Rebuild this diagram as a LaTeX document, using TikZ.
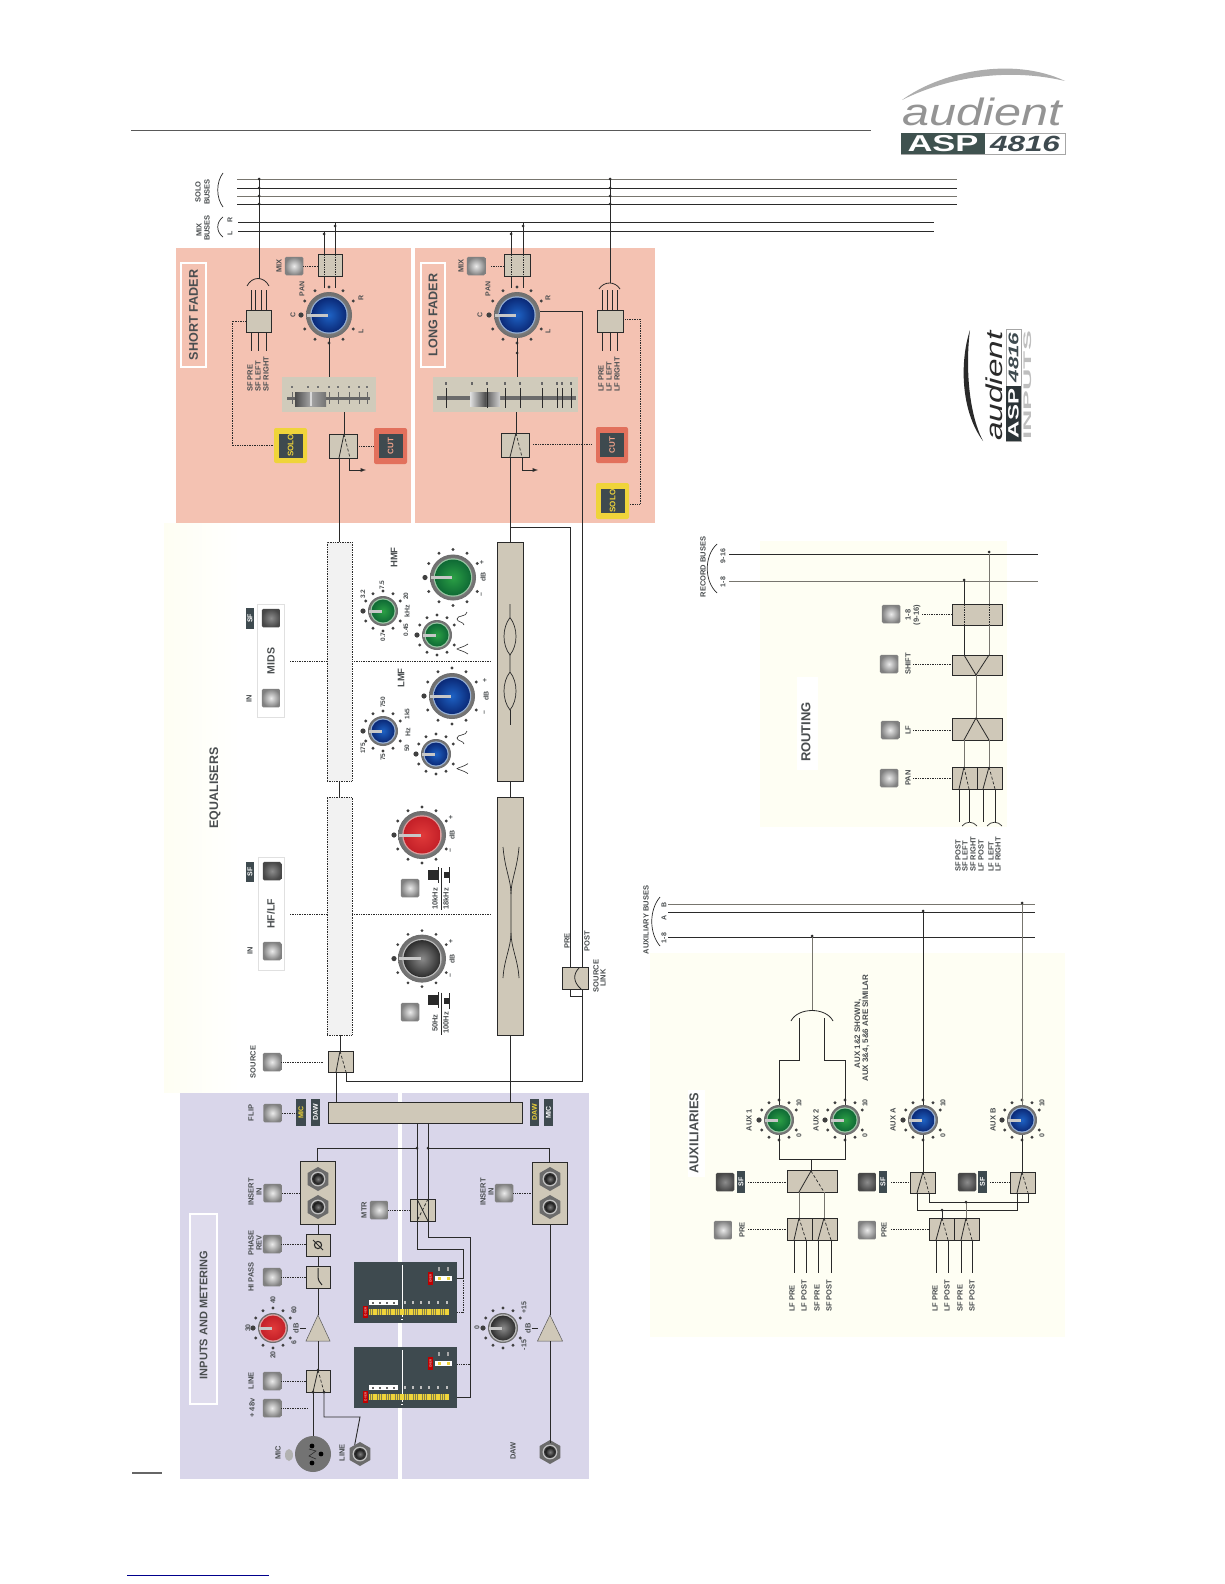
\documentclass[tikz,border=0pt]{standalone}
\usepackage{fontspec}
\setmainfont{Liberation Sans}
\usetikzlibrary{shapes.geometric,calc}
\definecolor{tan}{HTML}{CFC8B8}
\definecolor{ink}{HTML}{2A2A2A}
\definecolor{txt}{HTML}{4A4E50}
\definecolor{lav}{HTML}{D9D6EA}
\definecolor{pinkp}{HTML}{F4C2B2}
\definecolor{pale}{HTML}{FEFEF3}
\definecolor{slate}{HTML}{3E4A4F}
\definecolor{yel}{HTML}{EFD43A}
\definecolor{cutr}{HTML}{E2705C}
\definecolor{cutt}{HTML}{F0A28A}
\definecolor{fadc}{HTML}{D0CBBB}
\definecolor{wgray}{HTML}{77756E}
\definecolor{kbluei}{HTML}{1E62C4}\definecolor{kblueo}{HTML}{0B2A78}
\definecolor{kgreeni}{HTML}{2BA045}\definecolor{kgreeno}{HTML}{0F6A35}
\definecolor{kredi}{HTML}{E03A3A}\definecolor{kredo}{HTML}{C42028}
\definecolor{kgrayi}{HTML}{8A8A8A}\definecolor{kgrayo}{HTML}{2E2E2E}
\tikzset{
 wire/.style={draw=ink,line width=.9pt},
 gwire/.style={draw=wgray,line width=1pt},
 dotw/.style={draw=ink,line width=.7pt,densely dotted},
 ctl/.style={draw=ink,line width=.7pt,densely dotted},
 sym/.style={draw=ink,line width=.8pt},
 symd/.style={draw=ink,line width=.7pt,densely dashed},
 swbox/.style={draw=ink,fill=tan,line width=.9pt,inner sep=0pt},
 eqsf/.style={draw=ink,fill=black!5,line width=.7pt,densely dotted,inner sep=0pt},
 fadbg/.style={fill=fadc,inner sep=0pt},
 lbl/.style={rotate=90,inner sep=1pt,text=txt},
 ttl/.style={rotate=90,inner sep=1pt,text=txt},
 btnn/.style={rounded corners=1.5pt,minimum size=18.5pt,inner sep=0pt,inner color=black!8,outer color=black!50},
 btnd/.style={rounded corners=1.5pt,minimum size=18.5pt,inner sep=0pt,inner color=black!45,outer color=black!72},
}
\newcommand\fz[1]{\fontsize{#1}{#1}\selectfont}
\newcount\lbc
\newcommand\lb[4][7.5]{\global\advance\lbc by 1 \node[lbl,font=\bfseries\fz{#1}] (L\the\lbc) at (#2,#3) {#4};}
\newcommand\lbw[4][7.5]{\global\advance\lbc by 1 \node[lbl,font=\bfseries\fz{#1},anchor=west] (L\the\lbc) at (#2,#3) {#4};}
\newcommand\nlb[5][7.5]{\node[lbl,font=\bfseries\fz{#1}] (#2) at (#3,#4) {#5};}
\newcommand\bx[6][swbox]{\pgfmathsetmacro\bxcx{(#3+#5)/2}\pgfmathsetmacro\bxcy{(#4+#6)/2}\pgfmathsetmacro\bxw{#5-#3}\pgfmathsetmacro\bxh{#6-#4}\node[#1,minimum width=\bxw pt,minimum height=\bxh pt] (#2) at (\bxcx,\bxcy) {};}
\newcommand\btn[4][btnn]{\node[#1] (#2) at (#3,#4) {};}
\newcommand\vw[4][wire]{\draw[#1] (#3 -| #2,0) -- (#4 -| #2,0);}
\newcommand\hw[4][wire]{\draw[#1] (#3 |- 0,#2) -- (#4 |- 0,#2);}
\newcommand\jd[2]{\fill[ink] (#1,#2) circle (1.5pt);}
\newcommand\sw[5]{\draw[sym] (#1,#2)--(#3,#5); \draw[symd] (#1,#2)--(#4,#5);}
\newcommand\knob[8]{%
 \foreach \a in {30,60,90,120,150,210,240,270,300,330}{\fill[black!75] ({#2+#4*cos(\a)},{#3+#4*sin(\a)}) circle (1.6pt);}
 \fill[black!75] ({#2-#4},#3) circle (2.6pt);
 \node[circle,minimum size=2*#5 pt,inner sep=0pt,inner color=black!25,outer color=black!58] (#1) at (#2,#3) {};
 \draw[black!55,line width=1.2pt,dash pattern=on 1.2pt off 1.2pt] (#2,#3) circle ({#5-1 pt});
 \fill[#7!45!white!85!gray] (#2,#3) circle ({#6+1.2 pt});
 \shade[inner color=#7,outer color=#8] (#2,#3) circle ({#6 pt});
 \draw[black!22,line width=3pt] ({#2-#5+1},#3) -- ({#2-1},#3);
}
\newcommand\jack[4][12]{\node[regular polygon,regular polygon sides=6,rotate=30,minimum size=2*#1 pt,inner sep=0pt,fill=black!58] (#2) at (#3,#4) {};
 \fill[black!25] (#3,#4) circle ({#1*.62 pt}); \fill[black!80] (#3,#4) circle ({#1*.5 pt}); \shade[inner color=black!50,outer color=black!90] (#3,#4) circle ({#1*.4 pt});}
\newcommand\ctlb[8]{\bx[fill=#6,rounded corners=2pt,inner sep=0pt]{#1}{#2}{#3}{#4}{#5}
 \node[fill=slate,rotate=90,inner sep=0pt,minimum width=24pt,minimum height=24pt,text=#7,font=\bfseries\fz{8}] (#1t) at (#1) {#8};}
\newcommand\tagb[7]{\bx[fill=slate,inner sep=0pt]{#1}{#2}{#3}{#4}{#5}
 \node[rotate=90,inner sep=0pt,text=#7,font=\bfseries\fz{7}] (#1t) at (#1) {#6};}
\newcommand\amp[6]{\coordinate (#1a) at (#2,#3); \coordinate (#1b) at (#2,#4);
 \fill[tan,draw=black!65,line width=.5pt] (#2,#3) -- ({#2-#5},#4) -- ({#2+#5},#4) -- cycle;}
\newcommand\meterbody{%
 \draw[white,line width=.6pt] (48,3) -- (48,55);
 \fill[red!75!black] (74,10) rectangle (79,23);
 \node[rotate=90,inner sep=0pt,text=white,font=\fz{3}] (\mname a) at (76.5,16.5) {OVER};
 \fill[white] (81,14) rectangle (98,19);
 \fill[yel] (84,14.6) rectangle (87,18.4); \fill[yel] (93,14.6) rectangle (96,18.4);
 \fill[black!35] (84,5) rectangle (86,9); \fill[black!35] (93,5) rectangle (95,9);
 \fill[red!75!black] (9,44) rectangle (14,56);
 \node[rotate=90,inner sep=0pt,text=white,font=\fz{3}] (\mname b) at (11.5,50) {OVER};
 \fill[black!55!yellow] (15,47) rectangle (95,53);
 \draw[yel,line width=6pt,dash pattern=on 1.1pt off .7pt] (15,50) -- (95,50);
 \fill[white] (15,38) rectangle (44,43);
 \foreach \k in {19,26,33,40}{\fill[black!60] (\k-1,39.5) rectangle (\k+1,41.5);}
 \foreach \k in {51,59,67,75,84,93}{\fill[black!25] (\k-1,39) rectangle (\k+1,42);}
 \draw[white,line width=.6pt] (47,57) -- (49,57);
}
\newcommand\bella[2]{\draw[ink,line width=.6pt] ({#1+5},{#2-7}) .. controls ({#1+5},{#2-2}) and ({#1-5},{#2-4}) .. ({#1-5},#2) .. controls ({#1-5},{#2+3}) and ({#1+2},{#2+3}) .. ({#1+2},{#2+6});}
\newcommand\bellb[2]{\draw[ink,line width=.6pt] ({#1+6},{#2-5}) .. controls ({#1+2},{#2-2}) and ({#1-4},{#2-1}) .. ({#1-5},#2) .. controls ({#1-4},{#2+1}) and ({#1+2},{#2+2}) .. ({#1+6},{#2+5});}
\newcommand\shelf[4]{\fill[ink] ({#1+5},{#2-8}) rectangle ({#1+5.8},{#2+8}); \fill[ink] ({#1+5},{#2-#4}) rectangle ({#1+5-#3},{#2+#4});}
\begin{document}
\begin{tikzpicture}[x=1pt,y=-1pt]
\useasboundingbox (0,0) rectangle (1224,1584);
\fill[white] (0,0) rectangle (1224,1584);
% page furniture
\coordinate (ruleA) at (131,130); \coordinate (ruleB) at (871,130);
\draw[black!65,line width=.7pt] (ruleA) -- (ruleB);
\coordinate (ruleC) at (132,1473); \coordinate (ruleD) at (162,1473);
\draw[black!60,line width=1.1pt] (ruleC) -- (ruleD);
\coordinate (linkA) at (127,1575); \coordinate (linkB) at (269,1575);
\draw[blue!55!black,line width=.8pt] (linkA) -- (linkB);
% logo
\fill[black!32] (902,100) .. controls (940,72) and (1012,56) .. (1065,81) .. controls (1010,68) and (950,76) .. (902,100) -- cycle;
\node[inner sep=0pt,anchor=base,text=black!42,font=\itshape\fz{38}] (logoA) at (982,126) {\scalebox{1.28}[1]{audient}};
\bx[draw=black!35,fill=white,line width=.5pt,inner sep=0pt]{logoB}{901}{133}{1065}{154}
\definecolor{lgc}{HTML}{3F524F}
\bx[fill=lgc,inner sep=0pt]{logoC}{901}{133}{985}{154}
\node[inner sep=0pt,text=white,font=\bfseries\fz{23}] (logoD) at (943,143.5) {\scalebox{1.5}[1]{ASP}};
\node[inner sep=0pt,text=slate,font=\bfseries\itshape\fz{22}] (logoE) at (1025,143.5) {\scalebox{1.43}[1]{4816}};
% logo 2
\fill[ink] (970,330) .. controls (960,360) and (960,410) .. (983,441) .. controls (967,410) and (966,360) .. (970,330) -- cycle;
\node[rotate=90,inner sep=0pt,anchor=base,text=ink,font=\itshape\fz{23}] (logoF) at (1002,386) {\scalebox{1.45}[1]{audient}};
\bx[draw=black!35,fill=white,line width=.5pt,inner sep=0pt]{logoG}{1006}{329}{1021}{441}
\bx[fill=slate!70!black,inner sep=0pt]{logoH}{1006}{386}{1021}{441}
\node[rotate=90,inner sep=0pt,text=white,font=\bfseries\fz{15}] (logoI) at (1013.5,413.5) {\scalebox{1.6}[1]{ASP}};
\node[rotate=90,inner sep=0pt,text=slate,font=\bfseries\itshape\fz{14}] (logoJ) at (1013.5,357.5) {\scalebox{1.6}[1]{4816}};
\node[rotate=90,inner sep=0pt,text=black!25,font=\bfseries\fz{11}] (logoK) at (1028,385.5) {\scalebox{2.7}[1]{INPUTS}};
% panels
\shade[left color=pale,right color=white] (164,523) rectangle (240,1092);
\fill[lav] (180,1093) rectangle (398,1479);
\fill[lav] (402,1093) rectangle (589,1479);
\fill[pinkp] (176,248) rectangle (411,523);
\fill[pinkp] (415,248) rectangle (655,523);
\fill[pale] (650,953) rectangle (1065,1337);
\fill[pale] (760,541) rectangle (1007,827);
\fill[white] (688,1090) rectangle (705,1177);
\fill[white] (797,677) rectangle (818,770);
% titles
\draw[white,line width=2pt,fill=lav!85!white] (190,1214) rectangle (217,1404);
\node[ttl,font=\bfseries\fz{11}] (tInputs) at (203.5,1315) {INPUTS AND METERING};
\draw[white,line width=2pt] (181,263) rectangle (206,367);
\node[ttl,font=\bfseries\fz{12.6}] (tShort) at (193.5,315) {SHORT FADER};
\draw[white,line width=2pt] (421,263) rectangle (445,367);
\node[ttl,font=\bfseries\fz{12.6}] (tLong) at (433,315) {LONG FADER};
\node[ttl,font=\bfseries\fz{12.4}] (tEq) at (215,788) {EQUALISERS};
\node[ttl,font=\bfseries\fz{12.8}] (tAux) at (694,1133) {AUXILIARIES};
\node[ttl,font=\bfseries\fz{13}] (tRout) at (806,732) {ROUTING};
% buses
\foreach \n/\y/\c in {1/179/gwire,2/188/wire,3/196/gwire,4/204/wire}{\coordinate (sb\n) at (237,\y); \coordinate (sbe\n) at (957,\y); \draw[\c] (sb\n) -- (sbe\n);}
\foreach \n/\y in {R/222,L/231}{\coordinate (mb\n) at (238,\y); \coordinate (mbe\n) at (934,\y); \draw[wire] (mb\n) -- (mbe\n);}
\foreach \n/\y/\c in {B/904/gwire,A/912/wire,C/937/wire}{\coordinate (ab\n) at (668,\y); \coordinate (abe\n) at (1035,\y); \draw[\c] (ab\n) -- (abe\n);}
\foreach \n/\y/\c in {H/554/wire,T/581/gwire}{\coordinate (rb\n) at (729,\y); \coordinate (rbe\n) at (1038,\y); \draw[\c] (rb\n) -- (rbe\n);}
\coordinate (sb1) at (237,179);\coordinate (mbL) at (238,231);\coordinate (mbR) at (238,222);
\coordinate (abA) at (668,912);\coordinate (abB) at (668,904);\coordinate (abC) at (668,937);
\coordinate (rbH) at (729,554);\coordinate (rbT) at (729,581);
% brackets
\draw[ink,line width=.7pt] (223,173) .. controls (216,182) and (216,198) .. (223,207);
\draw[ink,line width=.7pt] (223,217) .. controls (216,222) and (216,232) .. (223,237);
\draw[ink,line width=.7pt] (660,897) .. controls (649,910) and (649,933) .. (660,946);
\draw[ink,line width=.7pt] (717,544) .. controls (704,556) and (704,581) .. (717,593);
\lb{198}{192}{SOLO}\lb{207}{192}{BUSES}\lb{199}{230}{MIX}\lb{207}{228}{BUSES}
\lb[7]{230}{220}{R}\lb[7]{230}{233}{L}
\lb{646}{920}{AUXILIARY BUSES}\lb[7]{664}{905}{B}\lb[7]{664}{918}{A}\lb[7]{664}{938}{1-8}
\lb{703}{567}{RECORD BUSES}\lb[7]{723}{556}{9-16}\lb[7]{723}{582}{1-8}
% ------- inputs
\bx{flip}{328}{1102}{522}{1123}
\btn{bFlip}{272.5}{1113}\lb{251}{1113}{FLIP}
\tagb{tgMic1}{296}{1099}{306}{1126}{MIC}{yel}
\tagb{tgDaw1}{311}{1099}{320}{1126}{DAW}{white}
\tagb{tgDaw2}{530}{1099}{539}{1126}{DAW}{yel}
\tagb{tgMic2}{544}{1099}{553}{1126}{MIC}{white}
\hw[ctl]{1113}{bFlip.east}{tgMic1.west}
\bx{insL}{300}{1161}{335}{1224}\bx{insR}{532}{1162}{567}{1224}
\jack{jL1}{318}{1179}\jack{jL2}{318}{1207}\jack{jR1}{550}{1179}\jack{jR2}{550}{1207}
\btn{bInsL}{272.5}{1193}\lb{251}{1192}{INSERT}\lb{259}{1192}{IN}
\btn{bInsR}{504}{1193}\lb{483}{1192}{INSERT}\lb{491}{1192}{IN}
\hw[ctl]{1193}{bInsL.east}{insL.west}\hw[ctl]{1193}{bInsR.east}{insR.west}
\bx{phase}{306}{1234}{330}{1256}\btn{bPhase}{272}{1244}\lb{251}{1243}{PHASE}\lb{259}{1243}{REV}
\hw[ctl]{1244}{bPhase.east}{phase.west}
\draw[ink,line width=1.1pt] (318,1245) circle (3.6pt); \draw[ink,line width=.9pt] (313,1240) -- (323,1250);
\bx{hp}{306}{1266}{330}{1288}\btn{bHp}{272}{1277}\lb{251}{1277}{HI PASS}
\hw[ctl]{1277}{bHp.east}{hp.west}
\draw[ink,line width=1pt] (318,1268) -- (318,1276) .. controls (318,1281) and (320,1282) .. (322,1285);
\knob{kGain}{273}{1328}{20}{15}{12.5}{kredi}{kredo}
\lb[7]{273}{1300}{40}\lb[7]{248}{1328}{30}\lb[7]{273}{1355}{20}\lb[7]{294}{1310}{60}\lb[7]{294}{1343}{6}
\nlb[7.5]{dbL}{296}{1328}{dB}
\amp{aL}{318}{1315}{1341}{12}{}
\coordinate (cAmpL) at (306,1328);
\hw{1328}{dbL.south}{cAmpL}
\bx{swLine}{306}{1370}{330}{1392}\btn{bLine}{272}{1381}\lb{251}{1381}{LINE}
\hw[ctl]{1381}{bLine.east}{swLine.west}
\sw{318}{1370}{313}{324}{1392}
\btn{b48}{272}{1408}\lb{252}{1408}{+ 48v}
\coordinate (c48) at (308,1408); \hw[ctl]{1408}{b48.east}{c48}
\node[circle,minimum size=36pt,inner sep=0pt,fill=black!55] (mic) at (313,1454) {};
\fill[black!30] (289,1455) ellipse (4pt and 6pt);
\foreach \px/\py in {312/1446,321/1454,312/1463}{\fill[black] (\px,\py) circle (2.4pt);}
\draw[ink,line width=.6pt] (309,1449) -- (316,1451) -- (309,1456) -- (316,1459);
\lb{278}{1453}{MIC}
\jack{jLine}{360}{1454}\lb{342}{1453}{LINE}
% meters
\bx[fill=slate,inner sep=0pt]{m1}{354}{1262}{457}{1323}
\bx[fill=slate,inner sep=0pt]{m2}{354}{1347}{457}{1408}
\begin{scope}[shift={(354,1262)}]\def\mname{mA}\meterbody\end{scope}
\begin{scope}[shift={(354,1347)}]\def\mname{mB}\meterbody\end{scope}
% mtr
\bx{mtr}{410}{1199}{435}{1221}\btn{bMtr}{379}{1210}\nlb{lMtr}{364}{1210}{MTR}
\hw[ctl]{1210}{bMtr.east}{mtr.west}
\draw[sym] (417,1199) -- (428,1221); \draw[symd] (428,1199) -- (417,1221);
\vw[sym]{417}{mtr.north}{mtr.south}\vw[sym]{428}{mtr.north}{mtr.south}
\vw{417}{flip.south}{mtr.north}\vw{428}{flip.south}{mtr.north}
\coordinate (c417) at (417,1148);\coordinate (c428) at (428,1148);
\draw[wire] (insL.north) |- (c417);\draw[wire] (insR.north) |- (c428);
\jd{417}{1148}\jd{428}{1148}
\vw{318}{insL.south}{phase.north}\vw{318}{phase.south}{hp.north}\vw{318}{hp.south}{aLa}\vw{318}{aLb}{swLine.north}
\vw{313}{swLine.south}{mic.north}
\coordinate (cLn) at (360,1417);
\draw[wire] (swLine.south -| 324,0) |- (cLn) -- (jLine.north);
\jd{318}{1370}\jd{313}{1392}\jd{324}{1392}
\coordinate (c1) at (463,1249);\coordinate (c2) at (463,1278);\coordinate (c3) at (470,1237);\coordinate (c4) at (470,1364);
\draw[wire] (mtr.south -| 417,0) |- (c1) |- (m1.east |- c2);
\draw[ctl] (c2) |- (m1.east |- 0,1312);
\draw[wire] (mtr.south -| 428,0) |- (c3) |- (m2.east |- 0,1397);
\draw[ctl] (c4) -- (m2.east |- c4);
% daw channel
\knob{kDaw}{503}{1328}{20}{15}{12.5}{kgrayi}{kgrayo}
\lb[7]{477}{1328}{0}\lb[7]{524}{1308}{+15}\lb[7]{524}{1345}{-15}
\nlb[7.5]{dbR}{528}{1328}{dB}
\amp{aR}{550}{1315}{1341}{12.5}{}
\coordinate (cAmpR) at (538,1328);
\hw{1328}{dbR.south}{cAmpR}
\vw{550}{insR.south}{aRa}
\jack{jDaw}{550}{1452}\lb{513}{1451}{DAW}
\vw{550}{aRb}{jDaw.north}
% ------- short fader
\coordinate (sfArc) at (259,279);
\draw[ink,line width=.8pt] (247,286) .. controls (252,276) and (264,276) .. (269,286);
\vw{259}{sb1}{sfArc}
\foreach \y in {179,188,196,204}{\jd{259}{\y}}
\bx{sfBox}{246}{310}{271}{332}
\foreach \x in {251,255.3,261,266}{\draw[wire] (sfBox.north -| \x,0) -- ++(0,-20);}
\foreach \x in {251,258,266}{\draw[wire] (sfBox.south -| \x,0) -- ++(0,19);}
\lbw{250}{393}{SF PRE}\lbw{258}{393}{SF LEFT}\lbw{266}{393}{SF RIGHT}
\ctlb{soloS}{274}{428}{307}{463}{yel}{yel}{SOLO}
\coordinate (cs1) at (232,321);
\draw[ctl] (sfBox.west) -- (cs1) |- (soloS.west);
\bx{mixS}{318}{254}{342}{276}\btn{bMixS}{294}{266}\nlb{lMixS}{279}{266}{MIX}
\hw[ctl]{266}{bMixS.east}{mixS.west}
\knob{kPanS}{329}{315}{28}{23}{17.5}{kbluei}{kblueo}
\lb[7]{293}{315}{C}\lb[7]{302}{289}{PAN}\lb[7]{361}{298}{R}\lb[7]{361}{331}{L}
\vw{324}{mbL}{mixS.north}\vw{335}{mbR}{mixS.north}\jd{324}{234}\jd{335}{226}
\vw[dotw]{324}{mixS.north}{mixS.south}\vw[dotw]{335}{mixS.north}{mixS.south}
\coordinate (cpS) at (0,288);
\draw[wire] (mixS.south -| 324,0) -- (cpS -| 324,0);\draw[wire] (mixS.south -| 335,0) -- (cpS -| 335,0);
\bx[fadbg]{fadS}{282}{377}{376}{412}
\draw[black!60,line width=3pt] (287,398) -- (370,398);
\foreach \x in {292,308,318,329,338,349,359,367}{\draw[black!60,line width=.7pt] (\x,392) -- (\x,404);\fill[black!55] (\x-.8,385.5) rectangle (\x+.8,388);}
\shade[left color=black!70,right color=black!55,middle color=black!35] (295,392) rectangle (326,406);
\fill[white!85!black] (310,392) rectangle (312,406);
\vw{329}{kPanS.south}{fadS.north}
\bx{swS}{329}{434}{357}{458}
\vw{344}{fadS.south}{swS.north}
\sw{344}{434}{339}{350}{458}
\ctlb{cutS}{374}{428}{407}{464}{cutr}{cutt}{CUT}
\hw[ctl]{446}{swS.east}{cutS.west}
\coordinate (cas) at (349,470);\coordinate (cae) at (366,470);
\draw[wire,-latex] (swS.south -| cas) |- (cae);
% ------- long fader
\bx{mixL}{504}{254}{530}{276}\btn{bMixL}{476}{266}\nlb{lMixL}{461}{266}{MIX}
\coordinate (cml) at (491,266);\hw[ctl]{266}{cml}{mixL.west}
\knob{kPanL}{517}{315}{28}{23}{17.5}{kbluei}{kblueo}
\lb[7]{480}{315}{C}\lb[7]{488}{289}{PAN}\lb[7]{548}{298}{R}\lb[7]{548}{331}{L}
\vw{511}{mbL}{mixL.north}\vw{523}{mbR}{mixL.north}\jd{511}{234}\jd{523}{226}
\vw[dotw]{511}{mixL.north}{mixL.south}\vw[dotw]{523}{mixL.north}{mixL.south}
\draw[wire] (mixL.south -| 511,0) -- (cpS -| 511,0);\draw[wire] (mixL.south -| 523,0) -- (cpS -| 523,0);
\bx[fadbg]{fadL}{433}{377}{578}{412}
\draw[black!58,line width=3.6pt] (437,398) -- (576,398);
\shade[left color=black!12,right color=black!18,middle color=black!68] (470,392) rectangle (500,406);
\foreach \x in {446,487,505,520,542,557,562,571}{\draw[ink,line width=.9pt] (\x,388) -- (\x,408);}
\foreach \x in {446,472,487,505,520,542,557,562,571}{\fill[black!60] (\x-1,381.5) rectangle (\x+1,384.5);}
\vw{517}{kPanL.south}{fadL.north}\jd{517}{353}
\bx{swL}{501}{433}{529}{457}
\vw{516}{fadL.south}{swL.north}
\sw{516}{433}{510}{522}{457}
\ctlb{cutL}{596}{427}{628}{463}{cutr}{cutt}{CUT}
\coordinate (ccl) at (533,444);\coordinate (ccr) at (592,444);\draw[ctl] (ccl) -- (ccr);
\coordinate (cal) at (522,470);\coordinate (cae2) at (538,470);
\draw[wire,-latex] (swL.south -| cal) |- (cae2);
\ctlb{soloL}{596}{483}{629}{519}{yel}{yel}{SOLO}
\bx{lfBox}{597}{310}{623}{332}
\coordinate (lfArc) at (610,283);
\draw[ink,line width=.8pt] (599,289) .. controls (604,281) and (615,281) .. (620,289);
\vw{610}{sb1}{lfArc}
\foreach \y in {179,188,196,204}{\jd{610}{\y}}
\foreach \x in {602,607,612,617}{\draw[wire] (lfBox.north -| \x,0) -- ++(0,-20);}
\foreach \x in {602,610,617}{\draw[wire] (lfBox.south -| \x,0) -- ++(0,19);}
\lbw{601}{393}{LF PRE}\lbw{609}{393}{LF LEFT}\lbw{617}{393}{LF RIGHT}
\coordinate (cl1) at (640,319);\coordinate (cl2) at (640,504);
\draw[ctl] (lfBox.east |- cl1) -- (cl1) |- (soloL.east |- cl2);
% ------- equalisers
\bx[eqsf]{eqS1}{327}{542}{352}{781}\bx[eqsf]{eqS2}{327}{797}{352}{1035}
\bx{eqL1}{497}{542}{523}{781}\bx{eqL2}{497}{797}{523}{1035}
\vw{339}{swS.south}{eqS1.north}\vw{339}{eqS1.south}{eqS2.north}
\vw{510}{swL.south}{eqL1.north}\vw{510}{eqL1.south}{eqL2.north}
\draw[ink,line width=.7pt] (510,604) -- (510,617.5) .. controls (502,628) and (502,645) .. (510,655) .. controls (518,645) and (518,628) .. (510,617.5);
\draw[ink,line width=.7pt] (510,655) -- (510,672) .. controls (502,682) and (502,700) .. (510,710) .. controls (518,700) and (518,682) .. (510,672);
\draw[ink,line width=.7pt] (510,710) -- (510,725);
\draw[ink,line width=.7pt] (503,847) .. controls (505,870) and (511,880) .. (511,894) -- (511,933) .. controls (511,947) and (504,960) .. (503,978);
\draw[ink,line width=.7pt] (519,847) .. controls (517,870) and (511,880) .. (511,894);
\draw[ink,line width=.7pt] (511,933) .. controls (511,947) and (518,960) .. (519,978);
% separators
\coordinate (sp1) at (290,661);\coordinate (sp2) at (491,661);\coordinate (sp3) at (290,914);\coordinate (sp4) at (491,914);
\draw[ctl] (sp1) -- (eqS1.west |- sp1);\draw[ctl] (eqS1.east |- sp2) -- (sp2);
\draw[ctl] (sp3) -- (eqS2.west |- sp3);\draw[ctl] (eqS2.east |- sp4) -- (sp4);
% in boxes
\bx[fill=white,draw=black!12,line width=.6pt,inner sep=0pt]{midBox}{257}{604}{284}{717.5}
\btn[btnd]{bMidS}{271}{618}\btn{bMidI}{271}{698}
\node[lbl,font=\bfseries\fz{10.5}] (lMids) at (271,661) {MIDS};
\tagb{tgSf1}{246}{608}{254}{629}{SF}{white}\lb{249}{699}{IN}
\bx[fill=white,draw=black!12,line width=.6pt,inner sep=0pt]{hlBox}{258}{857}{284}{970}
\btn[btnd]{bHlS}{272}{871}\btn{bHlI}{272}{951}
\node[lbl,font=\bfseries\fz{10.5}] (lHl) at (271,914) {HF/LF};
\tagb{tgSf2}{246}{862}{254}{882}{SF}{white}\lb{250}{951}{IN}
% eq knobs
\node[lbl,font=\bfseries\fz{9.5}] (lHmf) at (394,557.5) {HMF};
\node[lbl,font=\bfseries\fz{9.5}] (lLmf) at (401,678) {LMF};
\knob{kHf}{383}{611}{20}{15}{11.5}{kgreeni}{kgreeno}
\lb[6.5]{363}{594}{3.2}\lb[6.5]{382}{585}{7.5}\lb[6.5]{406}{596}{20}\lb[7]{407}{611}{kHz}\lb[6.5]{406}{630}{0.45}\lb[6.5]{383}{637}{0.7}
\knob{kHq}{437}{635}{20}{15}{11.5}{kgreeni}{kgreeno}
\bella{462}{619}\bellb{462}{649}
\knob{kHg}{453}{577.5}{28}{23}{18}{kgreeni}{kgreeno}
\lb[7]{483}{577}{dB}\lb[7]{482}{562}{+}\lb[7]{482}{595}{--}
\knob{kLf}{383}{731}{20}{15}{11.5}{kbluei}{kblueo}
\lb[6.5]{383}{702.5}{750}\lb[6.5]{407}{714}{1k5}\lb[7]{408}{732}{Hz}\lb[6.5]{407}{748}{50}\lb[6.5]{383}{757}{75}\lb[6.5]{363}{748.5}{175}
\knob{kLq}{436}{754}{20}{15}{11.5}{kbluei}{kblueo}
\bella{462}{738}\bellb{462}{768.6}
\knob{kLg}{452}{696}{28}{23}{18}{kbluei}{kblueo}
\lb[7]{486}{696}{dB}\lb[7]{485}{680}{+}\lb[7]{485}{713}{--}
\knob{kHi}{422}{835}{28}{24}{18.5}{kredi}{kredo}
\lb[7]{452}{835}{dB}\lb[7]{451}{817.5}{+}\lb[7]{451}{851}{--}
\knob{kLo}{422}{958.6}{28}{24}{18.5}{kgrayi}{kgrayo}
\lb[7]{452}{958.6}{dB}\lb[7]{451}{941}{+}\lb[7]{451}{976}{--}
\btn{bHi}{410}{888}\lb{435}{899}{10kHz}\lb{446}{899}{18kHz}
\coordinate (fHa) at (441,868);\coordinate (fHb) at (441,910);\draw[ink,line width=.6pt] (fHa) -- (fHb);
\shelf{433}{875}{10}{5}\shelf{444}{875}{5}{3}
\btn{bLo}{410}{1012}\lb{435}{1023}{50Hz}\lb{446}{1023}{100Hz}
\coordinate (fLa) at (441,992.5);\coordinate (fLb) at (441,1035);\draw[ink,line width=.6pt] (fLa) -- (fLb);
\shelf{433}{1000}{10}{5}\shelf{444}{1001}{5}{3}
% source
\bx{srcBox}{328}{1051}{353}{1072}\btn{bSrc}{272}{1062}\lb{253}{1062}{SOURCE}
\coordinate (cSrc) at (323,1062);\hw[ctl]{1062}{bSrc.east}{cSrc}
\sw{340}{1051}{336}{346}{1072}
\vw{340}{eqS2.south}{srcBox.north}
\vw{336}{srcBox.south}{flip.north}
\vw{510}{eqL2.south}{flip.north}
% source link
\bx{slink}{562}{967.5}{588}{989}
\draw[ink,line width=.8pt] (579,968) .. controls (573,974) and (573,982) .. (581,989);
\coordinate (tapPre) at (510,527);\coordinate (cRet) at (582,1081);\coordinate (cLnk) at (582,996);
\draw[wire] (tapPre) -| (slink.north -| 570,0);
\draw[wire] (kPanL.east |- 0,311) -| (slink.north -| 582,0);
\draw[wire] (srcBox.south -| 346,0) |- (cRet) -- (slink.south -| 582,0);
\draw[wire] (slink.south -| 570,0) |- (cLnk);
\lb{567}{941}{PRE}\lb{587}{941}{POST}\lb{596}{976}{SOURCE}\lb{603}{978}{LINK}
% ------- auxiliaries
\knob{kA1}{779}{1120}{20}{15}{11.5}{kgreeni}{kgreeno}
\knob{kA2}{845}{1120}{20}{15}{11.5}{kgreeni}{kgreeno}
\knob{kAa}{923}{1120}{20}{15}{11.5}{kbluei}{kblueo}
\knob{kAb}{1022}{1120}{20}{15}{11.5}{kbluei}{kblueo}
\lb{749}{1120}{AUX 1}\lb{816}{1120}{AUX 2}\lb{893}{1120}{AUX A}\lb{993}{1120}{AUX B}
\foreach \q/\n in {799/a,865/b,943/c,1042/d}{\node[lbl,font=\bfseries\fz{7}] (t10\n) at (\q,1103) {10};\node[lbl,font=\bfseries\fz{7}] (t0\n) at (\q,1136) {0};}
\coordinate (auxArc) at (812,1010);
\draw[ink,line width=.8pt] (791,1021) .. controls (798,1007) and (826,1007) .. (833,1021);
\draw[gwire] (abC -| 812,0) -- (auxArc);\jd{812}{936}
\coordinate (ca1) at (799,1018);\coordinate (ca2) at (824,1018);
\draw[wire] (ca1) |- (kA1.north |- 0,1060) -- (kA1.north);
\draw[wire] (ca2) |- (kA2.north |- 0,1060) -- (kA2.north);
\node[lbl,font=\bfseries\fz{8}] (nAux1) at (858,1034) {AUX 1\&2 SHOWN,};
\node[lbl,font=\bfseries\fz{8}] (nAux2) at (866,1028) {AUX 3\&4, 5\&6 ARE SIMILAR};
\bx{sfA}{787}{1170}{837}{1192}
\coordinate (cj) at (811,1159);
\draw[wire] (kA1.south) |- (cj) -| (kA2.south);
\draw[wire] (cj) -- (sfA.north -| cj);
\draw[sym] (811,1171) -- (799,1192);\draw[symd] (811,1171) -- (824,1192);
\btn[btnd]{bSfA}{725}{1182}\tagb{tgSfA}{737}{1171}{745}{1193}{SF}{white}
\coordinate (cd1) at (748,1182);\draw[ctl] (cd1) -- (sfA.west |- cd1);
\bx{preA1}{787}{1218}{812}{1240}\bx{preA2}{812}{1218}{837}{1240}
\draw[gwire] (sfA.south -| 799,0) -- (preA1.north -| 799,0);\draw[gwire] (sfA.south -| 824,0) -- (preA2.north -| 824,0);
\sw{799}{1218}{794}{806}{1240}\sw{824}{1218}{818}{831}{1240}
\foreach \x in {794,806}{\draw[wire] (preA1.south -| \x,0) -- ++(0,33);}
\foreach \x in {818,831}{\draw[wire] (preA2.south -| \x,0) -- ++(0,33);}
\btn{bPreA}{723}{1230}\lb{742}{1230}{PRE}
\coordinate (cd2) at (748,1229);\draw[ctl] (cd2) -- (preA1.west |- cd2);
\lbw{792}{1313}{LF PRE}\lbw{804}{1313}{LF POST}\lbw{817}{1313}{SF PRE}\lbw{829}{1313}{SF POST}
% aux A, B
\bx{sfB}{910}{1172}{935}{1193}\bx{sfC}{1010}{1172}{1035}{1193}
\vw{923}{abA}{kAa.north}\jd{923}{911}
\vw[gwire]{1022}{abB}{kAb.north}\jd{1022}{903}
\vw{923}{kAa.south}{sfB.north}\vw{1022}{kAb.south}{sfC.north}
\sw{923}{1172}{917}{929}{1193}\sw{1022}{1172}{1017}{1028}{1193}
\btn[btnd]{bSfB}{867}{1182}\tagb{tgSfB}{879}{1171}{887}{1193}{SF}{white}
\btn[btnd]{bSfC}{967}{1182}\tagb{tgSfC}{978}{1171}{987}{1193}{SF}{white}
\coordinate (cd3) at (891,1182);\draw[ctl] (cd3) -- (sfB.west |- cd3);
\coordinate (cd4) at (990,1182);\draw[ctl] (cd4) -- (sfC.west |- cd4);
\bx{preB1}{929}{1218}{954}{1240}\bx{preB2}{954}{1218}{979}{1240}
\coordinate (cw1) at (917,1210);\coordinate (cw2) at (929,1202);
\coordinate (cw3) at (1017,1193);\coordinate (cw4) at (1028,1193);
\draw[wire] (sfB.south -| cw1) |- (cw3 |- cw1) -- (cw3);
\draw[wire] (sfB.south -| cw2) |- (cw4 |- cw2) -- (cw4);
\vw{942}{cw1}{preB1.north}\jd{942}{1210}
\vw[gwire]{966}{cw2}{preB2.north}\jd{966}{1202}
\sw{942}{1218}{936}{948}{1240}\sw{966}{1218}{961}{972}{1240}
\foreach \x in {936,948}{\draw[wire] (preB1.south -| \x,0) -- ++(0,33);}
\foreach \x in {961,972}{\draw[wire] (preB2.south -| \x,0) -- ++(0,33);}
\btn{bPreB}{867}{1230}\lb{884}{1230}{PRE}
\coordinate (cd5) at (891,1229);\draw[ctl] (cd5) -- (preB1.west |- cd5);
\lbw{935}{1313}{LF PRE}\lbw{947}{1313}{LF POST}\lbw{960}{1313}{SF PRE}\lbw{972}{1313}{SF POST}
% ------- routing
\bx{rtA}{952}{604}{1002}{625}\bx{rtB}{952}{655}{1002}{675}\bx{rtC}{952}{718}{1002}{740}
\bx{rtD1}{952}{767}{977}{789}\bx{rtD2}{977}{767}{1002}{789}
\vw{964}{rbT}{rtA.north}\jd{964}{580}
\vw[gwire]{989}{rbH}{rtA.north}\jd{989}{552}
\vw[dotw]{964}{rtA.north}{rtA.south}\vw[dotw]{989}{rtA.north}{rtA.south}
\vw{964}{rtA.south}{rtB.north}\vw[gwire]{989}{rtA.south}{rtB.north}
\draw[sym] (964,655) -- (976,675) -- (989,655);
\vw[gwire]{976}{rtB.south}{rtC.north}
\draw[sym] (964,740) -- (976,718) -- (989,740);
\vw[gwire]{964}{rtC.south}{rtD1.north}\vw[gwire]{989}{rtC.south}{rtD2.north}
\sw{964}{767}{959}{969}{789}\sw{989}{767}{983}{995}{789}
\foreach \x in {959,969}{\draw[wire] (rtD1.south -| \x,0) -- ++(0,33);}
\foreach \x in {983,995}{\draw[wire] (rtD2.south -| \x,0) -- ++(0,33);}
\draw[ink,line width=.7pt] (962,826) .. controls (966,821) and (973,821) .. (977,826);
\draw[ink,line width=.7pt] (987,826) .. controls (991,821) and (998,821) .. (1002,826);
\lbw{958}{873}{SF POST}\lbw{965}{873}{SF LEFT}\lbw{973}{873}{SF RIGHT}\lbw{981}{873}{LF POST}\lbw{991}{873}{LF LEFT}\lbw{998}{873}{LF RIGHT}
\btn{bR1}{891}{614}\lb{908}{615}{1-8}\lb{917}{615}{(9-16)}
\btn{bR2}{889}{664}\lb{908}{664}{SHIFT}
\btn{bR3}{890}{730}\lb{908}{730}{LF}
\btn{bR4}{889}{778}\lb{908}{778}{PAN}
\coordinate (cr1) at (922,614);\draw[ctl] (cr1) -- (rtA.west |- cr1);
\coordinate (cr2) at (913,664);\draw[ctl] (cr2) -- (rtB.west |- cr2);
\coordinate (cr3) at (913,730);\draw[ctl] (cr3) -- (rtC.west |- cr3);
\coordinate (cr4) at (913,778);\draw[ctl] (cr4) -- (rtD1.west |- cr4);
\end{tikzpicture}
\end{document}
